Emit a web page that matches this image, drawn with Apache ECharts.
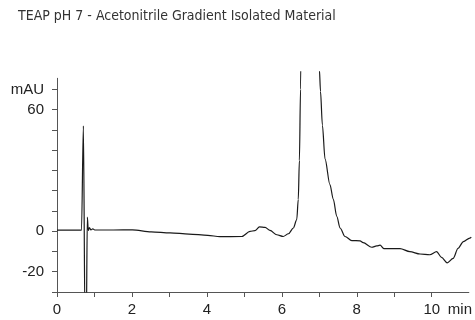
<!DOCTYPE html>
<html>
<head>
<meta charset="utf-8">
<script src="https://cdn.jsdelivr.net/npm/echarts@6/dist/echarts.min.js"></script>
<style>html,body{margin:0;padding:0;background:#fff}#c{width:475px;height:320px}</style>
</head>
<body>
<div id="c"></div>
<script>
// retention time (min) and absorbance (mAU)
const timeMin = [0, 0.3, 0.65, 0.70, 0.745, 0.775, 0.805, 0.83, 0.86, 0.90, 0.95, 1.0, 1.5, 2.0, 2.5, 3.0, 3.5, 4.0, 4.32, 4.9, 5.12, 5.25, 5.37, 5.52, 5.65, 5.83, 6.0, 6.14, 6.27, 6.36, 6.40, 6.43, 6.46, 6.50, 6.70, 6.85, 6.93, 6.96, 6.99, 7.04, 7.11, 7.24, 7.33, 7.42, 7.51, 7.64, 7.82, 8.04, 8.12, 8.35, 8.48, 8.57, 8.67, 8.88, 9.10, 9.36, 9.63, 9.89, 10.07, 10.2, 10.35, 10.51, 10.64, 10.78, 10.95, 10.99];
const absorbance = [0.5, 0.5, 0.5, 52, -50, -50, 7, 0.4, 1.8, 0.6, 1.2, 0.6, 0.6, 0.7, -0.3, -0.8, -1.4, -2.0, -2.7, -2.6, -0.1, 0.3, 2.1, 1.9, 0.4, -1.75, -2.6, -1.25, 1.6, 5.75, 15.7, 35, 70, 150, 260, 180, 100, 80, 69, 52.4, 35.7, 23, 15.75, 7.4, 1.6, -2.6, -4.6, -4.75, -5.6, -7.9, -7.25, -6.9, -8.6, -8.6, -8.6, -10.1, -11.25, -11.6, -10.1, -12.9, -15.6, -13.4, -8.4, -5.1, -3.4, -3.0];
const xTickValues = [0,1,2,3,4,5,6,7,8,9,10];
const xLabelValues = [0,2,4,6,8,10];
const yTickValues = [-30,-20,-10,0,10,20,30,40,50,60,70];
const yLabelValues = [-20,0,60,70];
const yLabelText = {'-20':'-20','0':'0','60':'60','70':'mAU'};

const points = timeMin.map((t,i)=>[t, absorbance[i]]);
const axisColor = '#555';
const labelFont = {color:'#222', fontSize:15, fontFamily:"'Liberation Sans', Arial, sans-serif"};
const chart = echarts.init(document.getElementById('c'), null, {renderer:'canvas'});
chart.setOption({
  animation:false,
  title:{text:'TEAP pH 7 - Acetonitrile Gradient Isolated Material', left:13, top:4,
    textStyle:{fontSize:14, fontWeight:'normal', color:'#333', fontFamily:"'Liberation Sans Narrow', 'DejaVu Sans Condensed', sans-serif"}},
  grid:[
    {left:57, right:3.7, top:78.3, bottom:28, containLabel:false},
    {left:57, right:3.7, top:71.8, bottom:28, containLabel:false}
  ],
  xAxis:[
    {type:'value', gridIndex:0, min:0, max:10.99,
     name:'min', nameLocation:'end', nameGap:-21,
     nameTextStyle:Object.assign({}, labelFont, {verticalAlign:'top', align:'left', padding:[10,0,0,0]}),
     axisLine:{show:true, onZero:false, lineStyle:{color:axisColor, width:1}},
     axisTick:{show:true, length:5, customValues:xTickValues, lineStyle:{color:axisColor}},
     axisLabel:Object.assign({customValues:xLabelValues, margin:10}, labelFont),
     splitLine:{show:false}},
    {type:'value', gridIndex:1, min:0, max:10.99, show:false}
  ],
  yAxis:[
    {type:'value', gridIndex:0, min:-30, max:75.5,
     axisLine:{show:true, onZero:false, lineStyle:{color:axisColor, width:1}},
     axisTick:{show:true, length:5, customValues:yTickValues, lineStyle:{color:axisColor}},
     axisLabel:Object.assign({customValues:yLabelValues, margin:13,
       formatter:v=>yLabelText[String(v)]||''}, labelFont),
     splitLine:{show:false}},
    {type:'value', gridIndex:1, min:-30, max:78.7, show:false}
  ],
  series:[{
    type:'line', xAxisIndex:1, yAxisIndex:1, data:points,
    showSymbol:false, smooth:0.3, smoothMonotone:'x', clip:true,
    lineStyle:{color:'#1a1a1a', width:1.2}
  }]
});
</script>
</body>
</html>
